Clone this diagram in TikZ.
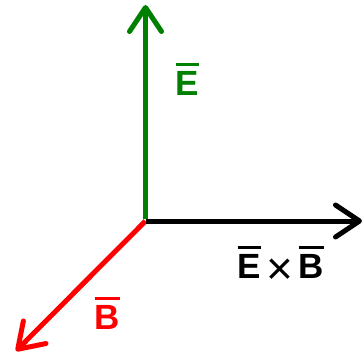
\documentclass[tikz,border=0pt]{standalone}
\usepackage{fontspec}
\setmainfont{Liberation Sans}
\usetikzlibrary{arrows.meta}
\definecolor{egreen}{HTML}{008000}
\definecolor{bred}{HTML}{FF0000}
\newcommand\vecbar[1]{\leavevmode\vbox{\hrule height 3pt\kern 4.5pt\hbox{#1}}}
\tikzset{every node/.style={font=\fontsize{35}{40}\selectfont\bfseries,inner sep=0pt},
axis/.style={line width=5pt,-{Straight Barb[length=24pt,width=32pt,round]}}}
\begin{document}
\begin{tikzpicture}[x=1pt,y=-1pt]
\useasboundingbox (0,0) rectangle (364,356);
\coordinate (o) at (145.5,221);
\coordinate (etip) at (145.5,5);
\coordinate (xtip) at (362,221);
\coordinate (btip) at (16,351);
% vectors
\draw[axis,bred] (o)--(btip);
\draw[axis,egreen] ([yshift=2.5pt]o)--(etip);
\draw[axis,black] (o)--(xtip);
% labels
\node[anchor=base west,text=egreen] (elab) at (175.5,95) {\vecbar{E}};
\node[anchor=base west,text=bred] (blab) at (94.5,329) {\vecbar{B}};
\node[anchor=base west,text=black] (xlab) at (237.5,278)
{\vecbar{E}\kern5pt\raisebox{-6pt}{\mdseries\fontsize{46}{48}\selectfont ×}\kern6pt\vecbar{B}};
\end{tikzpicture}
\end{document}
